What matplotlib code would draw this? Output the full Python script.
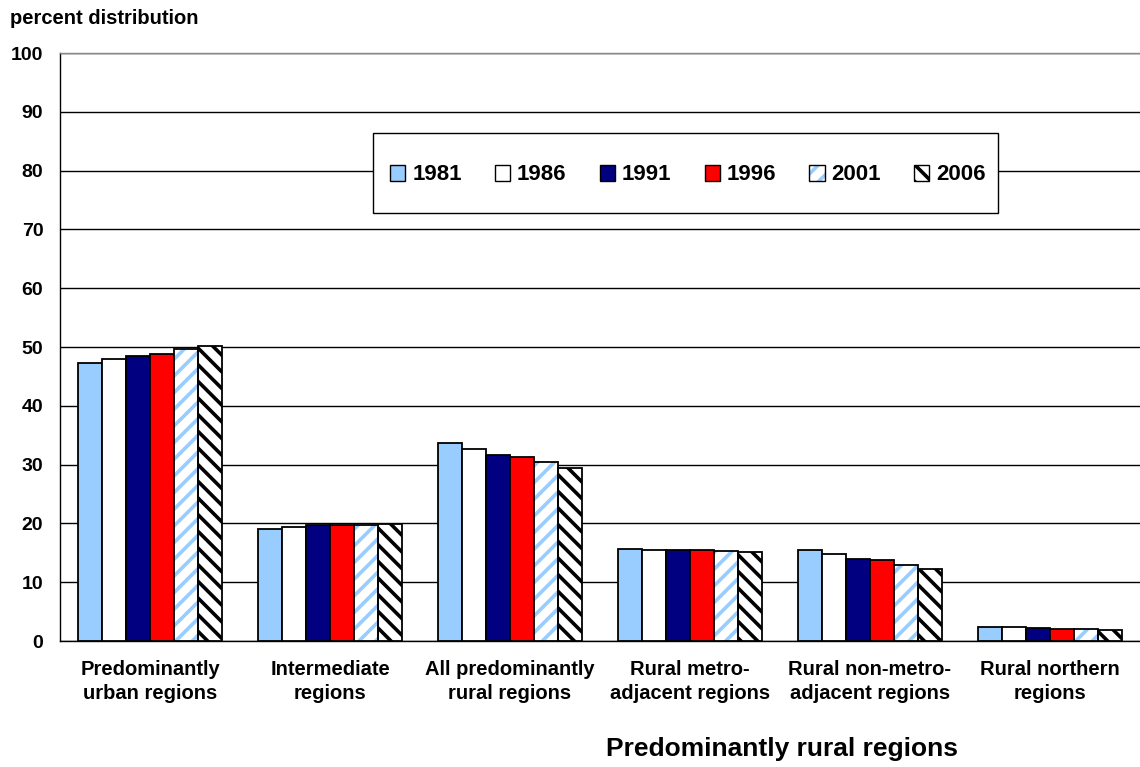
import numpy as np
import matplotlib
matplotlib.use("Agg")
import matplotlib.pyplot as plt
from matplotlib.patches import Rectangle

plt.rcParams["font.family"] = ["Liberation Sans", "DejaVu Sans"]
plt.rcParams["font.weight"] = "bold"
plt.rcParams["hatch.linewidth"] = 2.6

regions = [
    "Predominantly\nurban regions",
    "Intermediate\nregions",
    "All predominantly\nrural regions",
    "Rural metro-\nadjacent regions",
    "Rural non-metro-\nadjacent regions",
    "Rural northern\nregions",
]
years = ["1981", "1986", "1991", "1996", "2001", "2006"]

share_1981 = [47.2, 19.0, 33.6, 15.6, 15.4, 2.4]
share_1986 = [47.9, 19.4, 32.7, 15.5, 14.8, 2.3]
share_1991 = [48.5, 19.7, 31.6, 15.4, 14.0, 2.2]
share_1996 = [48.8, 19.7, 31.3, 15.4, 13.8, 2.1]
share_2001 = [49.7, 19.7, 30.4, 15.3, 12.9, 2.0]
share_2006 = [50.2, 19.9, 29.5, 15.2, 12.3, 1.9]
series = [share_1981, share_1986, share_1991, share_1996, share_2001, share_2006]

# fill colour, hatch, hatch colour
styles = [
    ("#99CCFF", None, None),
    ("#FFFFFF", None, None),
    ("#000080", None, None),
    ("#FF0000", None, None),
    ("#FFFFFF", "//", "#99CCFF"),
    ("#FFFFFF", "\\\\", "#000000"),
]

W, H = 1140, 767
fig = plt.figure(figsize=(W / 100, H / 100), dpi=100)
ax = fig.add_axes([60 / W, 1 - 641 / H, 1080 / W, 588 / H])

x = np.arange(len(regions))
width = 0.8 / len(years)
handles = []
for i, (vals, year, (fc, hatch, hc)) in enumerate(zip(series, years, styles)):
    pos = x - 0.4 + width * (i + 0.5)
    if hatch:
        # hatch drawn in its own colour, outline drawn on top in black
        ax.bar(pos, vals, width, color=fc, edgecolor=hc, hatch=hatch,
               linewidth=0, zorder=3)
        ax.bar(pos, vals, width, fill=False, edgecolor="black",
               linewidth=1.3, zorder=4)
        h = Rectangle((0, 0), 1, 1, facecolor=fc, edgecolor=hc,
                      hatch=hatch, linewidth=0)
        frame = Rectangle((0, 0), 1, 1, fill=False, edgecolor="black",
                          linewidth=1.0)
        handles.append((h, frame))
    else:
        ax.bar(pos, vals, width, color=fc, edgecolor="black",
               linewidth=1.3, zorder=3)
        handles.append(Rectangle((0, 0), 1, 1, facecolor=fc,
                                 edgecolor="black", linewidth=1.0))

ax.set_xlim(-0.5, len(regions) - 0.5)
ax.set_ylim(0, 100)
ax.set_yticks(range(0, 101, 10))
ax.set_xticks(x)
ax.set_xticklabels(regions, fontsize=14.5, fontweight="bold", linespacing=1.32)
ax.tick_params(axis="both", length=0)
ax.tick_params(axis="x", pad=14)
ax.tick_params(axis="y", pad=12, labelsize=14)
for lbl in ax.get_yticklabels():
    lbl.set_fontweight("bold")

ax.grid(axis="y", color="black", linewidth=1.0, zorder=1)
ax.spines["right"].set_visible(False)
ax.spines["top"].set_color("#888888")
ax.spines["left"].set_color("black")
ax.spines["bottom"].set_color("black")
for s in ax.spines.values():
    s.set_linewidth(1.0)

# legend box, then the entries centred inside it
def to_axes(px, py):
    return (px - 60) / 1080, (641 - py) / 588

bx0, by0 = to_axes(373, 213)
bx1, by1 = to_axes(998, 133)
ax.add_patch(Rectangle((bx0, by0), bx1 - bx0, by1 - by0, transform=ax.transAxes,
                       facecolor="white", edgecolor="black", linewidth=1.0,
                       zorder=5))
leg = ax.legend(handles, years, ncol=6, loc="center",
                bbox_to_anchor=to_axes(688, 175), frameon=False,
                handlelength=0.68, handleheight=0.72, handletextpad=0.32,
                columnspacing=1.49, borderpad=0, borderaxespad=0,
                prop={"weight": "bold", "size": 16})
leg.set_zorder(6)

fig.text(10 / W, 1 - 18 / H, "percent distribution", fontsize=14.5,
         fontweight="bold", va="center", ha="left")
fig.text(782 / W, 1 - 749 / H, "Predominantly rural regions",
         fontsize=19, fontweight="bold", va="center", ha="center")

fig.savefig("out.png", dpi=100)
